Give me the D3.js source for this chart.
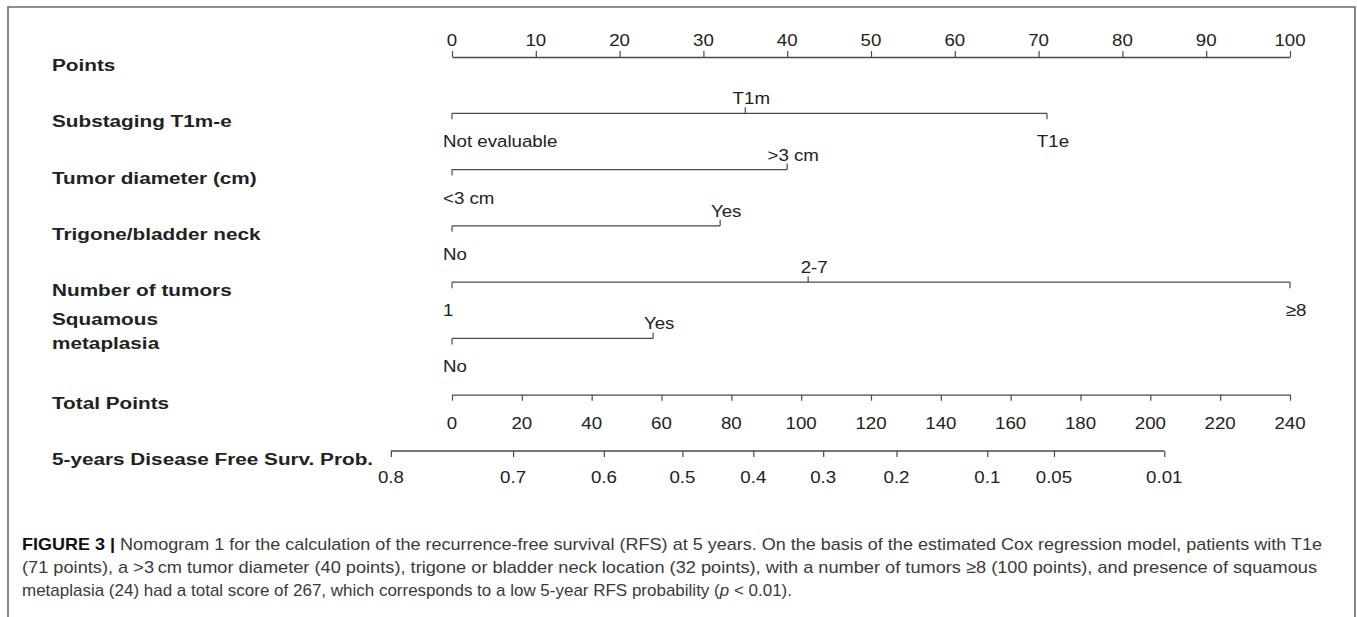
<!DOCTYPE html>
<html><head><meta charset="utf-8">
<script src="https://cdn.jsdelivr.net/npm/d3@7"></script>
<style>body{margin:0;background:#fff}svg{display:block}</style>
</head><body><svg id="c" width="1357" height="617"></svg>
<script>
// ---- data ----
const rowNames = ["Points","Substaging T1m-e","Tumor diameter (cm)","Trigone/bladder neck","Number of tumors","Squamous metaplasia","Total Points","5-years Disease Free Surv. Prob."];
const pointTicks = [0,10,20,30,40,50,60,70,80,90,100];
const varNames = ["Substaging T1m-e","Tumor diameter (cm)","Trigone/bladder neck","Number of tumors","Squamous metaplasia"];
const varLevels = [["Not evaluable","T1m","T1e"],["<3 cm",">3 cm"],["No","Yes"],["1","2-7","≥8"],["No","Yes"]];
const varPoints = [[0,35,71],[0,40],[0,32],[0,42.5,100],[0,24]];
const totalTicks = [0,20,40,60,80,100,120,140,160,180,200,220,240];
const probLabels = ["0.8","0.7","0.6","0.5","0.4","0.3","0.2","0.1","0.05","0.01"];
const probAtTotal = [-17.5,17.5,43.5,66,86.3,106.3,127.3,153.3,172.4,204];
const captionLines = [
  [["b","FIGURE 3 | "],["n","Nomogram 1 for the calculation of the recurrence-free survival (RFS) at 5 years. On the basis of the estimated Cox regression model, patients with T1e"]],
  [["n","(71 points), a >3\u2009cm tumor diameter (40 points), trigone or bladder neck location (32 points), with a number of tumors \u22658 (100 points), and presence of squamous"]],
  [["n","metaplasia (24) had a total score of 267, which corresponds to a low 5-year RFS probability ("],["i","p"],["n"," < 0.01)."]]
];

// ---- drawing ----
const svg = d3.select("#c");
const FONT = "Arial, 'Liberation Sans', Helvetica, sans-serif";
const LINE = "#4a4a4a";
const x = d3.scaleLinear().domain([0,100]).range([452,1290]);
const xt = d3.scaleLinear().domain([0,240]).range([452,1290]);
const y = d3.scalePoint().domain(rowNames).range([57,451]);

// frame
svg.append("path").attr("d","M8,617V7H1355V617").attr("fill","none").attr("stroke","#6a6a6a").attr("stroke-width",1.6);

function txt(x0,y0,s,o){
  o=o||{};
  return svg.append("text")
    .attr("transform",`translate(${x0},${y0}) scale(${o.sx||1.1},1)`)
    .attr("text-anchor",o.anchor||"middle")
    .attr("font-family",FONT).attr("font-size",o.size||17)
    .attr("font-weight",o.bold?"bold":"normal")
    .attr("fill",o.fill||"#222").text(s);
}
function styleAxis(g){
  g.select(".domain").attr("stroke",LINE).attr("stroke-width",1.3);
  g.selectAll(".tick line").attr("stroke",LINE).attr("stroke-width",1.2);
  g.selectAll(".tick text").remove();
}

// row name labels
rowNames.forEach(n=>{
  if(n==="Squamous metaplasia"){
    txt(52,y(n)-13,"Squamous",{anchor:"start",bold:true,sx:1.22});
    txt(52,y(n)+11,"metaplasia",{anchor:"start",bold:true,sx:1.22});
  } else {
    txt(52,y(n)+14,n,{anchor:"start",bold:true,sx:1.22});
  }
});

// Points axis
const gp = svg.append("g").attr("transform",`translate(0,${y("Points")})`);
gp.call(d3.axisTop(x).tickValues(d3.range(0,100.01,2.5)).tickSize(2).tickSizeOuter(0).tickFormat(""));
gp.call(d3.axisTop(x).tickValues(pointTicks).tickSize(6).tickSizeOuter(0)); styleAxis(gp);
pointTicks.forEach(v=>txt(x(v),y("Points")-11,String(v)));

// variable lines
varNames.forEach((n,i)=>{
  const yy=y(n), pts=varPoints[i], lv=varLevels[i];
  svg.append("line").attr("x1",x(d3.min(pts))).attr("x2",x(d3.max(pts)))
    .attr("y1",yy).attr("y2",yy).attr("stroke",LINE).attr("stroke-width",1.3);
  pts.forEach((p,j)=>{
    const below = j%2===0;
    svg.append("line").attr("x1",x(p)).attr("x2",x(p)).attr("y1",yy).attr("y2",below?yy+6:yy-6)
      .attr("stroke",LINE).attr("stroke-width",1.2);
    if(j===0) txt(x(p)-9, yy+34, lv[j], {anchor:"start"});
    else txt(x(p)+6, below?yy+34:yy-9, lv[j]);
  });
});

// Total points axis
const gt = svg.append("g").attr("transform",`translate(0,${y("Total Points")})`);
gt.call(d3.axisBottom(xt).tickValues(d3.range(0,240.01,2)).tickSize(3).tickSizeOuter(0).tickFormat(""));
gt.call(d3.axisBottom(xt).tickValues(totalTicks).tickSize(6).tickSizeOuter(0)); styleAxis(gt);
totalTicks.forEach(v=>txt(xt(v),y("Total Points")+34,String(v)));

// Probability axis
const yp = y("5-years Disease Free Surv. Prob.");
const gpr = svg.append("g").attr("transform",`translate(0,${yp})`);
gpr.call(d3.axisBottom(xt).tickValues(probAtTotal).tickSize(6).tickSizeOuter(0)); styleAxis(gpr);
gpr.select(".domain").attr("d",`M${xt(d3.min(probAtTotal))},0H${xt(d3.max(probAtTotal))}`);
probLabels.forEach((l,i)=>txt(xt(probAtTotal[i]),yp+32,l));

// caption
const capY=[550,573,596], capLen=[1300,1295,770];
captionLines.forEach((parts,i)=>{
  const t=svg.append("text").attr("x",22).attr("y",capY[i])
    .attr("font-family","'Liberation Sans Narrow', 'Liberation Sans', Arial, sans-serif")
    .attr("font-size",17).attr("fill","#3a3a3a")
    .attr("textLength",capLen[i]).attr("lengthAdjust","spacingAndGlyphs");
  parts.forEach(([k,s])=>{
    const ts=t.append("tspan").text(s);
    if(k==="b") ts.attr("font-weight","bold").attr("fill","#111");
    if(k==="i") ts.attr("font-style","italic");
  });
});
</script></body></html>
